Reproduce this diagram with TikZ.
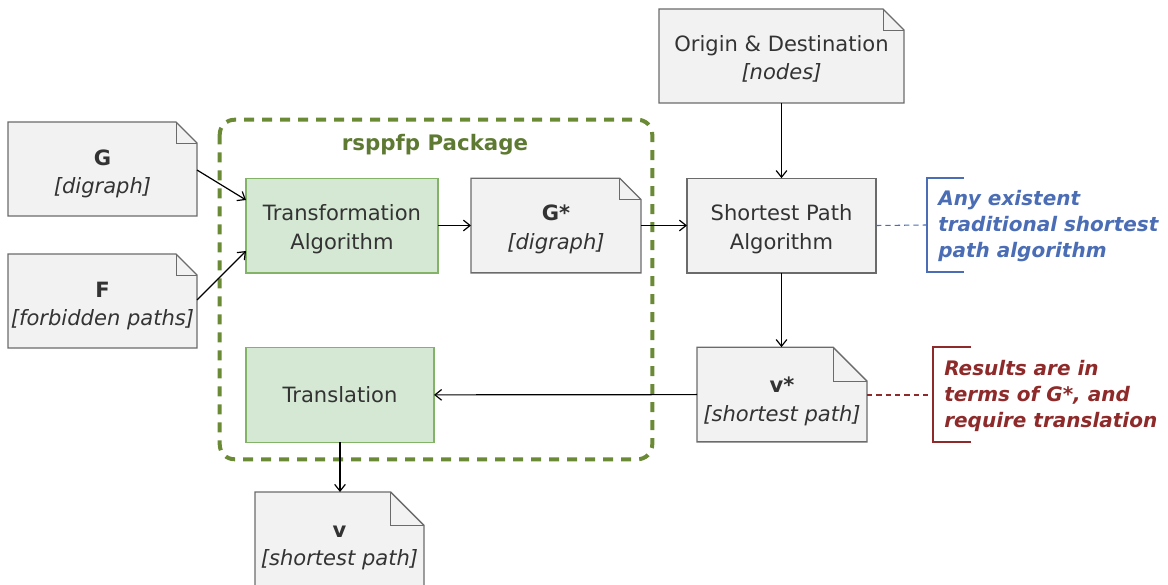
\documentclass[tikz,border=0pt]{standalone}
\usepackage{fontspec}
\setmainfont{DejaVu Sans}
\usetikzlibrary{arrows.meta,fit,backgrounds}

\definecolor{docfill}{HTML}{F2F2F2}
\definecolor{docline}{HTML}{6B6B6B}
\definecolor{algfill}{HTML}{D5E8D4}
\definecolor{algline}{HTML}{82B366}
\definecolor{pkgline}{HTML}{6A8A35}
\definecolor{pkgtext}{HTML}{5E7A32}
\definecolor{noteblue}{HTML}{4A6DB5}
\definecolor{notered}{HTML}{8E2A2A}
\definecolor{txt}{HTML}{333333}

\tikzset{
  box/.style={inner sep=0pt, outer sep=0pt, align=center, text=txt,
    font=\fontsize{15.8}{21.5}\selectfont, minimum width=#1},
  box/.default=141.75pt,
  docnode/.style={box=#1, minimum height=70.5pt},
  docnode/.default=127.5pt,
  docshape/.style={draw=docline, fill=docfill, line width=1pt, line join=miter},
  alg/.style={box=#1, minimum height=71pt, draw=algline, fill=algfill, line width=1pt},
  alg/.default=144pt,
  plainbox/.style={box, minimum height=71pt, draw=docline, fill=docfill, line width=1pt},
  pkgframe/.style={draw=pkgline, line width=3pt, dash pattern=on 7.5pt off 6pt, rounded corners=11pt},
  flow/.style={draw=black, line width=0.9pt, -{Straight Barb[length=5pt,width=8pt,line width=0.9pt]}},
  note/.style={anchor=west, inner sep=0pt, align=left, font=\fontsize{15}{19.8}\selectfont\bfseries\itshape},
  bracket/.style={line width=0.9pt},
  notelink/.style={line width=0.8pt, dash pattern=on 4pt off 3pt},
}

% invisible strut that pushes a two-line label down inside its box
\newcommand\lift[1]{\rule{0pt}{#1}}

% document shape with a folded corner of size #2 behind node #1
\newcommand\dogear[2]{%
  \filldraw[docshape] (#1.south west) -- (#1.north west) -- ([xshift=-#2]#1.north east)
    -- ([yshift=-#2]#1.north east) -- (#1.south east) -- cycle;
  \draw[docshape, fill=none, line width=0.7pt] ([xshift=-#2]#1.north east) |- ([yshift=-#2]#1.north east);
}

\begin{document}
\begin{tikzpicture}[x=0.75pt, y=-0.75pt]
\useasboundingbox (0,0) rectangle (1168,585);
\clip (0,0) rectangle (1168,585);

% package frame
\node[fit={(220,120)(652,459)}, inner sep=0pt] (pkg) {};
\draw[pkgframe] (pkg.north west) rectangle (pkg.south east);
\node[font=\fontsize{16}{19}\selectfont\bfseries, text=pkgtext] (pkgtitle) at (435,145) {rsppfp Package};

% inputs
\node[docnode=141.75pt] (G) at (102.5,169) {\lift{19pt}{\bfseries G}\\{\itshape [digraph]}};
\node[docnode=141.75pt] (F) at (102.5,301) {\lift{19pt}{\bfseries F}\\{\itshape [forbidden paths]}};
\node[docnode=183.75pt] (OD) at (781.5,56) {\lift{16.5pt}Origin \& Destination\\{\itshape [nodes]}};

% algorithms
\node[alg] (TA) at (342,225.5) {\lift{18pt}Transformation\\Algorithm};
\node[alg=141pt] (TR) at (340,395) {Translation};
\node[plainbox] (SP) at (781.5,225.5) {\lift{18pt}Shortest Path\\Algorithm};

% intermediate and final results
\node[docnode, minimum height=71pt] (Gs) at (556,225.5) {\lift{18pt}{\bfseries G*}\\{\itshape [digraph]}};
\node[docnode, minimum height=71pt] (vs) at (782,394.5) {\lift{22.5pt}{\bfseries v*}\\{\itshape [shortest path]}};
\node[docnode=126.75pt, minimum height=73.5pt] (v) at (339.5,541) {\lift{19pt}{\bfseries v}\\{\itshape [shortest path]}};

\begin{pgfonlayer}{background}
  \dogear{G}{15.75pt}
  \dogear{F}{15.75pt}
  \dogear{OD}{15.75pt}
  \dogear{Gs}{16pt}
  \dogear{vs}{25.5pt}
  \dogear{v}{25pt}
\end{pgfonlayer}

% flow
\coordinate (TAin1) at (246,200);
\coordinate (TAin2) at (246,251);
\draw[flow] (G.east |- 0,170) -- (TAin1);
\draw[flow] (F.east |- 0,300) -- (TAin2);
\draw[flow] (TA) -- (Gs);
\draw[flow] (Gs) -- (SP);
\draw[flow] (OD.south -| SP.north) -- (SP.north);
\draw[flow] (SP.south) -- (SP.south |- vs.north);
\draw[flow] (vs) -- (TR);
\draw[flow] (TR.south -| 340,0) -- (v.north -| 340,0);

% annotations
\coordinate (nb) at (927,225);
\draw[noteblue, bracket] (964,178) -- (927,178) -- (927,272) -- (964,272);
\draw[noteblue, notelink] (SP.east) -- (nb);
\node[note, text=noteblue] (anyalg) at (938,226) {Any existent\\traditional shortest\\path algorithm};

\coordinate (nr) at (933,395);
\draw[notered, bracket] (971,347) -- (933,347) -- (933,442) -- (971,442);
\draw[notered, notelink] (vs.east |- nr) -- (nr);
\node[note, text=notered] (results) at (944,396) {Results are in\\terms of G*, and\\require translation};
\end{tikzpicture}
\end{document}
